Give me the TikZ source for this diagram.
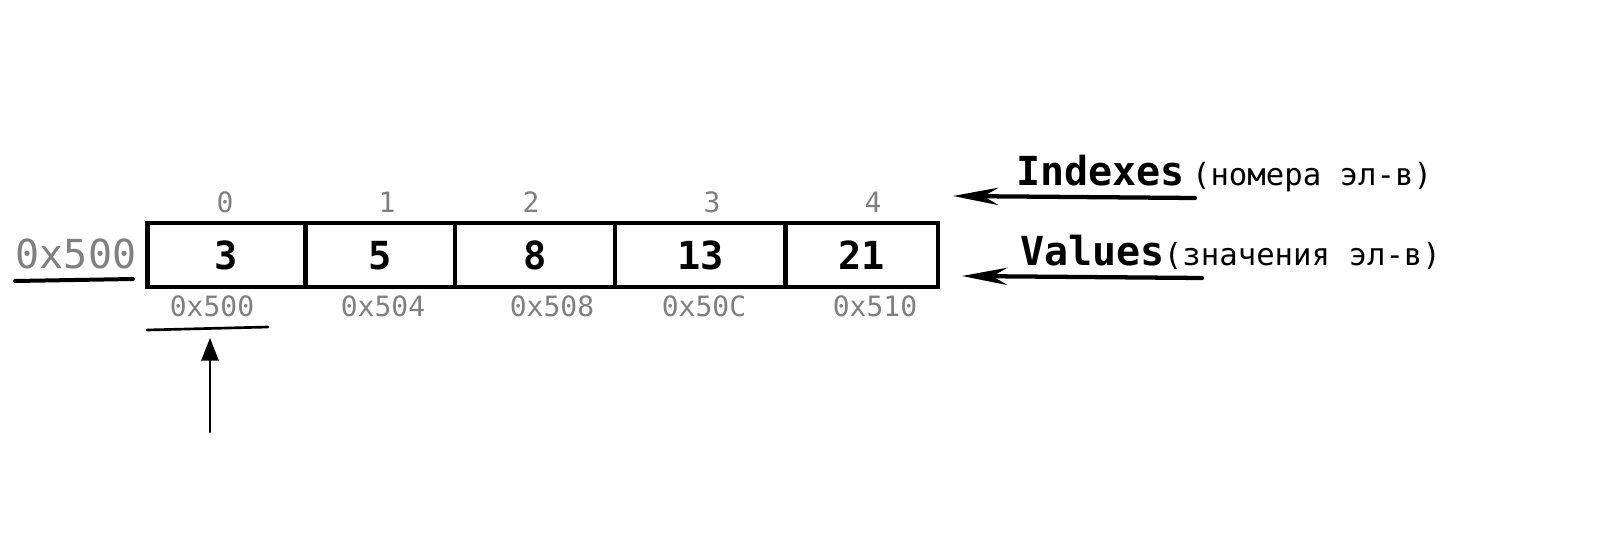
\documentclass[tikz,border=0pt]{standalone}
\usepackage{fontspec}
\setmainfont{DejaVu Sans Mono}
\usetikzlibrary{arrows.meta, positioning}
\definecolor{addrgray}{HTML}{808080}
\tikzstyle{memory}=[x=0.75pt, y=-0.75pt, line cap=round]
\tikzstyle{cell}=[draw, line width=3.2pt, inner sep=0pt, minimum height=47.8pt, font=\fontsize{29}{31}\selectfont\bfseries]
\tikzstyle{idx}=[anchor=base, inner sep=0pt, text=addrgray, font=\fontsize{21}{23}\selectfont]
\tikzstyle{addr}=[anchor=base, inner sep=0pt, text=addrgray, font=\fontsize{21}{23}\selectfont]
\tikzstyle{caption}=[anchor=base west, inner sep=0pt, font=\fontsize{30}{32}\selectfont\bfseries]
\tikzstyle{note}=[anchor=base west, inner sep=0pt, font=\fontsize{23}{25}\selectfont]
\tikzstyle{pointer}=[line width=3.2pt, -{Stealth[length=34pt, width=13pt]}]

\begin{document}
\begin{tikzpicture}[memory]
  \useasboundingbox (0,0) rectangle (1598,550);
  \node[cell, minimum width=118.5pt] (c0) at (226.5,255.2) {3};
  \node[cell, minimum width=112.4pt] (c1) at (380.4,255.2) {5};
  \node[cell, minimum width=120pt] (c2) at (535.3,255.2) {8};
  \node[cell, minimum width=127.5pt] (c3) at (700.3,255.2) {13};
  \node[cell, minimum width=114.5pt] (c4) at (861.7,255.2) {21};
  \node[idx] (i0) at (225,212) {0};
  \node[idx] (i1) at (387,212) {1};
  \node[idx] (i2) at (531,212) {2};
  \node[idx] (i3) at (712,212) {3};
  \node[idx] (i4) at (873,212) {4};
  \node[addr] (a0) at (212,316) {0x500};
  \node[addr] (a1) at (383,316) {0x504};
  \node[addr] (a2) at (552,316) {0x508};
  \node[addr] (a3) at (704,316) {0x50C};
  \node[addr] (a4) at (875,316) {0x510};
  \node[anchor=base, inner sep=0pt, text=addrgray, font=\fontsize{30}{32}\selectfont] (start) at (76,268) {0x500};
  \coordinate (startL) at (15,281);
  \coordinate (startR) at (133,279);
  \draw[line width=3pt] (startL) -- (startR);
  \coordinate (a0L) at (147,330);
  \coordinate (a0R) at (268,327);
  \draw[line width=2pt] (a0L) -- (a0R);
  \coordinate (ptrtail) at (210,432);
  \coordinate (ptrtip) at (210,338);
  \draw[line width=1.5pt, -{Triangle[length=17pt, width=13pt]}] (ptrtail) -- (ptrtip);
  \node[caption] (idxname) at (1016,185) {Indexes};
  \node[note] (idxnote) [right=5pt of idxname.base east, anchor=base west] {(номера эл-в)};
  \node[caption] (valname) at (1020,265) {Values};
  \node[note] (valnote) [right=-1pt of valname.base east, anchor=base west] {(значения эл-в)};
  \coordinate (idxtail) at (1195,198);
  \coordinate (idxtip) at (953,196);
  \draw[pointer] (idxtail) -- (idxtip);
  \coordinate (valtail) at (1202,278);
  \coordinate (valtip) at (962,276);
  \draw[pointer] (valtail) -- (valtip);
\end{tikzpicture}
\end{document}
